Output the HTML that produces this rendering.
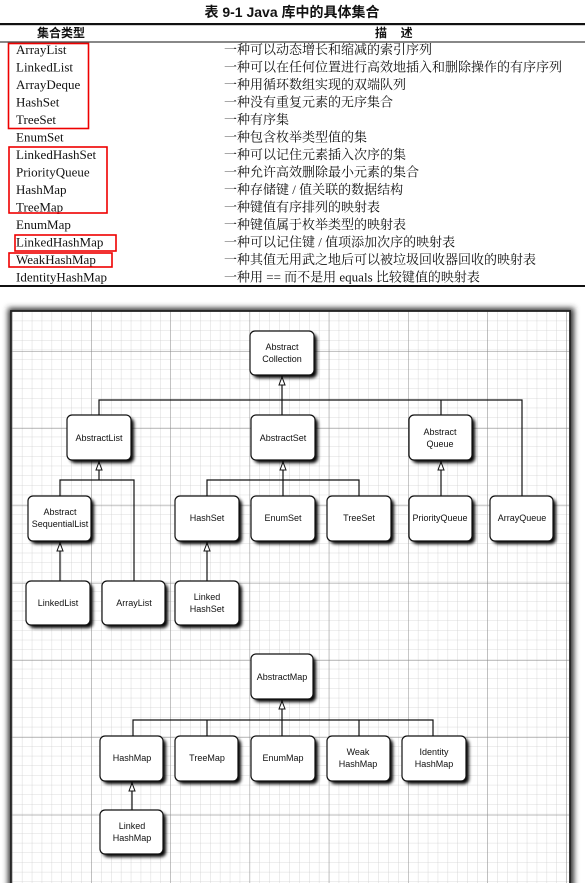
<!DOCTYPE html>
<html><head><meta charset="utf-8"><style>
html,body{margin:0;padding:0;background:#fff;}
svg{display:block}
.t{font-family:"Liberation Serif","Noto Serif CJK SC",serif;font-size:13px;fill:#111}
.n{font-family:"Liberation Sans",sans-serif;font-size:9px;fill:#111;text-anchor:middle}
</style></head><body>
<svg width="585" height="883" viewBox="0 0 585 883" xmlns="http://www.w3.org/2000/svg">
<defs>
<filter id="sh" x="-20%" y="-20%" width="150%" height="150%"><feGaussianBlur stdDeviation="1.6"/></filter>
<filter id="fs" x="-5%" y="-5%" width="110%" height="110%"><feGaussianBlur stdDeviation="3"/></filter>
<pattern id="minor" x="12" y="311" width="9.9" height="9.67" patternUnits="userSpaceOnUse">
<path d="M0 0V9.67M0 0H9.9" stroke="#cfcfcf" stroke-width="0.8" fill="none"/></pattern>
<pattern id="major" x="12" y="273.7" width="79.2" height="77.3" patternUnits="userSpaceOnUse">
<path d="M0 0V77.3M0 0H79.2" stroke="#888" stroke-width="0.9" fill="none"/></pattern>
<marker id="ar" viewBox="0 0 8 10" refX="4" refY="0" markerWidth="8" markerHeight="10" orient="0" markerUnits="userSpaceOnUse">
<path d="M1 9L4 1L7 9Z" fill="#fff" stroke="#111" stroke-width="1"/></marker>
</defs>
<!-- table -->
<text x="292" y="17" text-anchor="middle" style="font-family:'Liberation Sans','Noto Sans CJK SC',sans-serif;font-weight:bold;font-size:14px;fill:#111">表 9-1  Java 库中的具体集合</text>
<rect x="0" y="23" width="585" height="2.2" fill="#111"/>
<text x="37" y="37" style="font-family:'Noto Sans CJK SC',sans-serif;font-weight:bold;font-size:12px;fill:#111">集合类型</text>
<text x="375" y="37" style="font-family:'Noto Sans CJK SC',sans-serif;font-weight:bold;font-size:12px;fill:#111">描&#160;&#160;&#160;&#160;&#160;述</text>
<rect x="0" y="41.5" width="585" height="1" fill="#111"/>
<g class="t">
<text x="16" y="54">ArrayList</text><text x="224" y="54">一种可以动态增长和缩减的索引序列</text>
<text x="16" y="71.5">LinkedList</text><text x="224" y="71.5">一种可以在任何位置进行高效地插入和删除操作的有序序列</text>
<text x="16" y="89">ArrayDeque</text><text x="224" y="89">一种用循环数组实现的双端队列</text>
<text x="16" y="106.5">HashSet</text><text x="224" y="106.5">一种没有重复元素的无序集合</text>
<text x="16" y="124">TreeSet</text><text x="224" y="124">一种有序集</text>
<text x="16" y="141.5">EnumSet</text><text x="224" y="141.5">一种包含枚举类型值的集</text>
<text x="16" y="159">LinkedHashSet</text><text x="224" y="159">一种可以记住元素插入次序的集</text>
<text x="16" y="176.5">PriorityQueue</text><text x="224" y="176.5">一种允许高效删除最小元素的集合</text>
<text x="16" y="194">HashMap</text><text x="224" y="194">一种存储键 / 值关联的数据结构</text>
<text x="16" y="211.5">TreeMap</text><text x="224" y="211.5">一种键值有序排列的映射表</text>
<text x="16" y="229">EnumMap</text><text x="224" y="229">一种键值属于枚举类型的映射表</text>
<text x="16" y="246.5">LinkedHashMap</text><text x="224" y="246.5">一种可以记住键 / 值项添加次序的映射表</text>
<text x="16" y="264">WeakHashMap</text><text x="224" y="264">一种其值无用武之地后可以被垃圾回收器回收的映射表</text>
<text x="16" y="281.5">IdentityHashMap</text><text x="224" y="281.5">一种用 == 而不是用 equals 比较键值的映射表</text>
</g>
<rect x="0" y="285" width="585" height="2" fill="#111"/>
<g fill="none" stroke="#e00" stroke-width="1.6">
<rect x="8.5" y="43.5" width="80" height="85"/>
<rect x="9" y="147" width="98" height="66"/>
<rect x="15" y="235" width="101" height="16"/>
<rect x="9" y="253" width="103" height="14"/>
</g>
<!-- frame -->
<rect x="8" y="308" width="566" height="590" fill="#333" filter="url(#fs)"/>
<rect x="11" y="311" width="559" height="580" fill="#fff"/>
<rect x="11" y="311" width="559" height="580" fill="url(#minor)"/>
<rect x="11" y="311" width="559" height="580" fill="url(#major)"/>
<rect x="11" y="311" width="559" height="580" fill="none" stroke="#222" stroke-width="1.8"/>
<!-- connectors -->
<g stroke="#111" stroke-width="1.2" fill="none">
<path d="M282 376V415" marker-start="url(#ar)"/>
<path d="M99 415V400H522V496M441 400V415"/>
<path d="M99 461V480" marker-start="url(#ar)"/>
<path d="M60 496V480H134V581"/>
<path d="M283 461V496" marker-start="url(#ar)"/>
<path d="M207 496V480H359V496"/>
<path d="M441 461V496" marker-start="url(#ar)"/>
<path d="M60 542V581" marker-start="url(#ar)"/>
<path d="M207 542V581" marker-start="url(#ar)"/>
<path d="M282 700V736" marker-start="url(#ar)"/>
<path d="M133 736V720H433V736M207 720V736M359 720V736"/>
<path d="M132 782V810" marker-start="url(#ar)"/>
</g>
<!-- boxes -->
<g id="boxes">
<g><rect x="253" y="334" width="64" height="44" rx="5" fill="#000" filter="url(#sh)"/><rect x="250" y="331" width="64" height="44" rx="5" fill="#fff" stroke="#111" stroke-width="1.2"/><text class="n" x="282" y="350">Abstract</text><text class="n" x="282" y="362">Collection</text></g>
<g><rect x="70" y="418" width="64" height="45" rx="5" fill="#000" filter="url(#sh)"/><rect x="67" y="415" width="64" height="45" rx="5" fill="#fff" stroke="#111" stroke-width="1.2"/><text class="n" x="99" y="441">AbstractList</text></g>
<g><rect x="254" y="418" width="64" height="45" rx="5" fill="#000" filter="url(#sh)"/><rect x="251" y="415" width="64" height="45" rx="5" fill="#fff" stroke="#111" stroke-width="1.2"/><text class="n" x="283" y="441">AbstractSet</text></g>
<g><rect x="412" y="418" width="63" height="45" rx="5" fill="#000" filter="url(#sh)"/><rect x="409" y="415" width="63" height="45" rx="5" fill="#fff" stroke="#111" stroke-width="1.2"/><text class="n" x="440" y="435">Abstract</text><text class="n" x="440" y="447">Queue</text></g>
<g><rect x="31" y="499" width="63" height="45" rx="5" fill="#000" filter="url(#sh)"/><rect x="28" y="496" width="63" height="45" rx="5" fill="#fff" stroke="#111" stroke-width="1.2"/><text class="n" x="60" y="515">Abstract</text><text class="n" x="60" y="527">SequentialList</text></g>
<g><rect x="178" y="499" width="64" height="45" rx="5" fill="#000" filter="url(#sh)"/><rect x="175" y="496" width="64" height="45" rx="5" fill="#fff" stroke="#111" stroke-width="1.2"/><text class="n" x="207" y="521">HashSet</text></g>
<g><rect x="254" y="499" width="64" height="45" rx="5" fill="#000" filter="url(#sh)"/><rect x="251" y="496" width="64" height="45" rx="5" fill="#fff" stroke="#111" stroke-width="1.2"/><text class="n" x="283" y="521">EnumSet</text></g>
<g><rect x="330" y="499" width="64" height="45" rx="5" fill="#000" filter="url(#sh)"/><rect x="327" y="496" width="64" height="45" rx="5" fill="#fff" stroke="#111" stroke-width="1.2"/><text class="n" x="359" y="521">TreeSet</text></g>
<g><rect x="412" y="499" width="63" height="45" rx="5" fill="#000" filter="url(#sh)"/><rect x="409" y="496" width="63" height="45" rx="5" fill="#fff" stroke="#111" stroke-width="1.2"/><text class="n" x="440" y="521">PriorityQueue</text></g>
<g><rect x="493" y="499" width="63" height="45" rx="5" fill="#000" filter="url(#sh)"/><rect x="490" y="496" width="63" height="45" rx="5" fill="#fff" stroke="#111" stroke-width="1.2"/><text class="n" x="522" y="521">ArrayQueue</text></g>
<g><rect x="29" y="584" width="64" height="44" rx="5" fill="#000" filter="url(#sh)"/><rect x="26" y="581" width="64" height="44" rx="5" fill="#fff" stroke="#111" stroke-width="1.2"/><text class="n" x="58" y="606">LinkedList</text></g>
<g><rect x="105" y="584" width="63" height="44" rx="5" fill="#000" filter="url(#sh)"/><rect x="102" y="581" width="63" height="44" rx="5" fill="#fff" stroke="#111" stroke-width="1.2"/><text class="n" x="134" y="606">ArrayList</text></g>
<g><rect x="178" y="584" width="64" height="44" rx="5" fill="#000" filter="url(#sh)"/><rect x="175" y="581" width="64" height="44" rx="5" fill="#fff" stroke="#111" stroke-width="1.2"/><text class="n" x="207" y="600">Linked</text><text class="n" x="207" y="612">HashSet</text></g>
<g><rect x="254" y="657" width="62" height="45" rx="5" fill="#000" filter="url(#sh)"/><rect x="251" y="654" width="62" height="45" rx="5" fill="#fff" stroke="#111" stroke-width="1.2"/><text class="n" x="282" y="680">AbstractMap</text></g>
<g><rect x="103" y="739" width="63" height="45" rx="5" fill="#000" filter="url(#sh)"/><rect x="100" y="736" width="63" height="45" rx="5" fill="#fff" stroke="#111" stroke-width="1.2"/><text class="n" x="132" y="761">HashMap</text></g>
<g><rect x="178" y="739" width="63" height="45" rx="5" fill="#000" filter="url(#sh)"/><rect x="175" y="736" width="63" height="45" rx="5" fill="#fff" stroke="#111" stroke-width="1.2"/><text class="n" x="207" y="761">TreeMap</text></g>
<g><rect x="254" y="739" width="64" height="45" rx="5" fill="#000" filter="url(#sh)"/><rect x="251" y="736" width="64" height="45" rx="5" fill="#fff" stroke="#111" stroke-width="1.2"/><text class="n" x="283" y="761">EnumMap</text></g>
<g><rect x="330" y="739" width="63" height="45" rx="5" fill="#000" filter="url(#sh)"/><rect x="327" y="736" width="63" height="45" rx="5" fill="#fff" stroke="#111" stroke-width="1.2"/><text class="n" x="358" y="755">Weak</text><text class="n" x="358" y="767">HashMap</text></g>
<g><rect x="405" y="739" width="64" height="45" rx="5" fill="#000" filter="url(#sh)"/><rect x="402" y="736" width="64" height="45" rx="5" fill="#fff" stroke="#111" stroke-width="1.2"/><text class="n" x="434" y="755">Identity</text><text class="n" x="434" y="767">HashMap</text></g>
<g><rect x="103" y="813" width="63" height="44" rx="5" fill="#000" filter="url(#sh)"/><rect x="100" y="810" width="63" height="44" rx="5" fill="#fff" stroke="#111" stroke-width="1.2"/><text class="n" x="132" y="829">Linked</text><text class="n" x="132" y="841">HashMap</text></g>
</g>
</svg>
</body></html>
